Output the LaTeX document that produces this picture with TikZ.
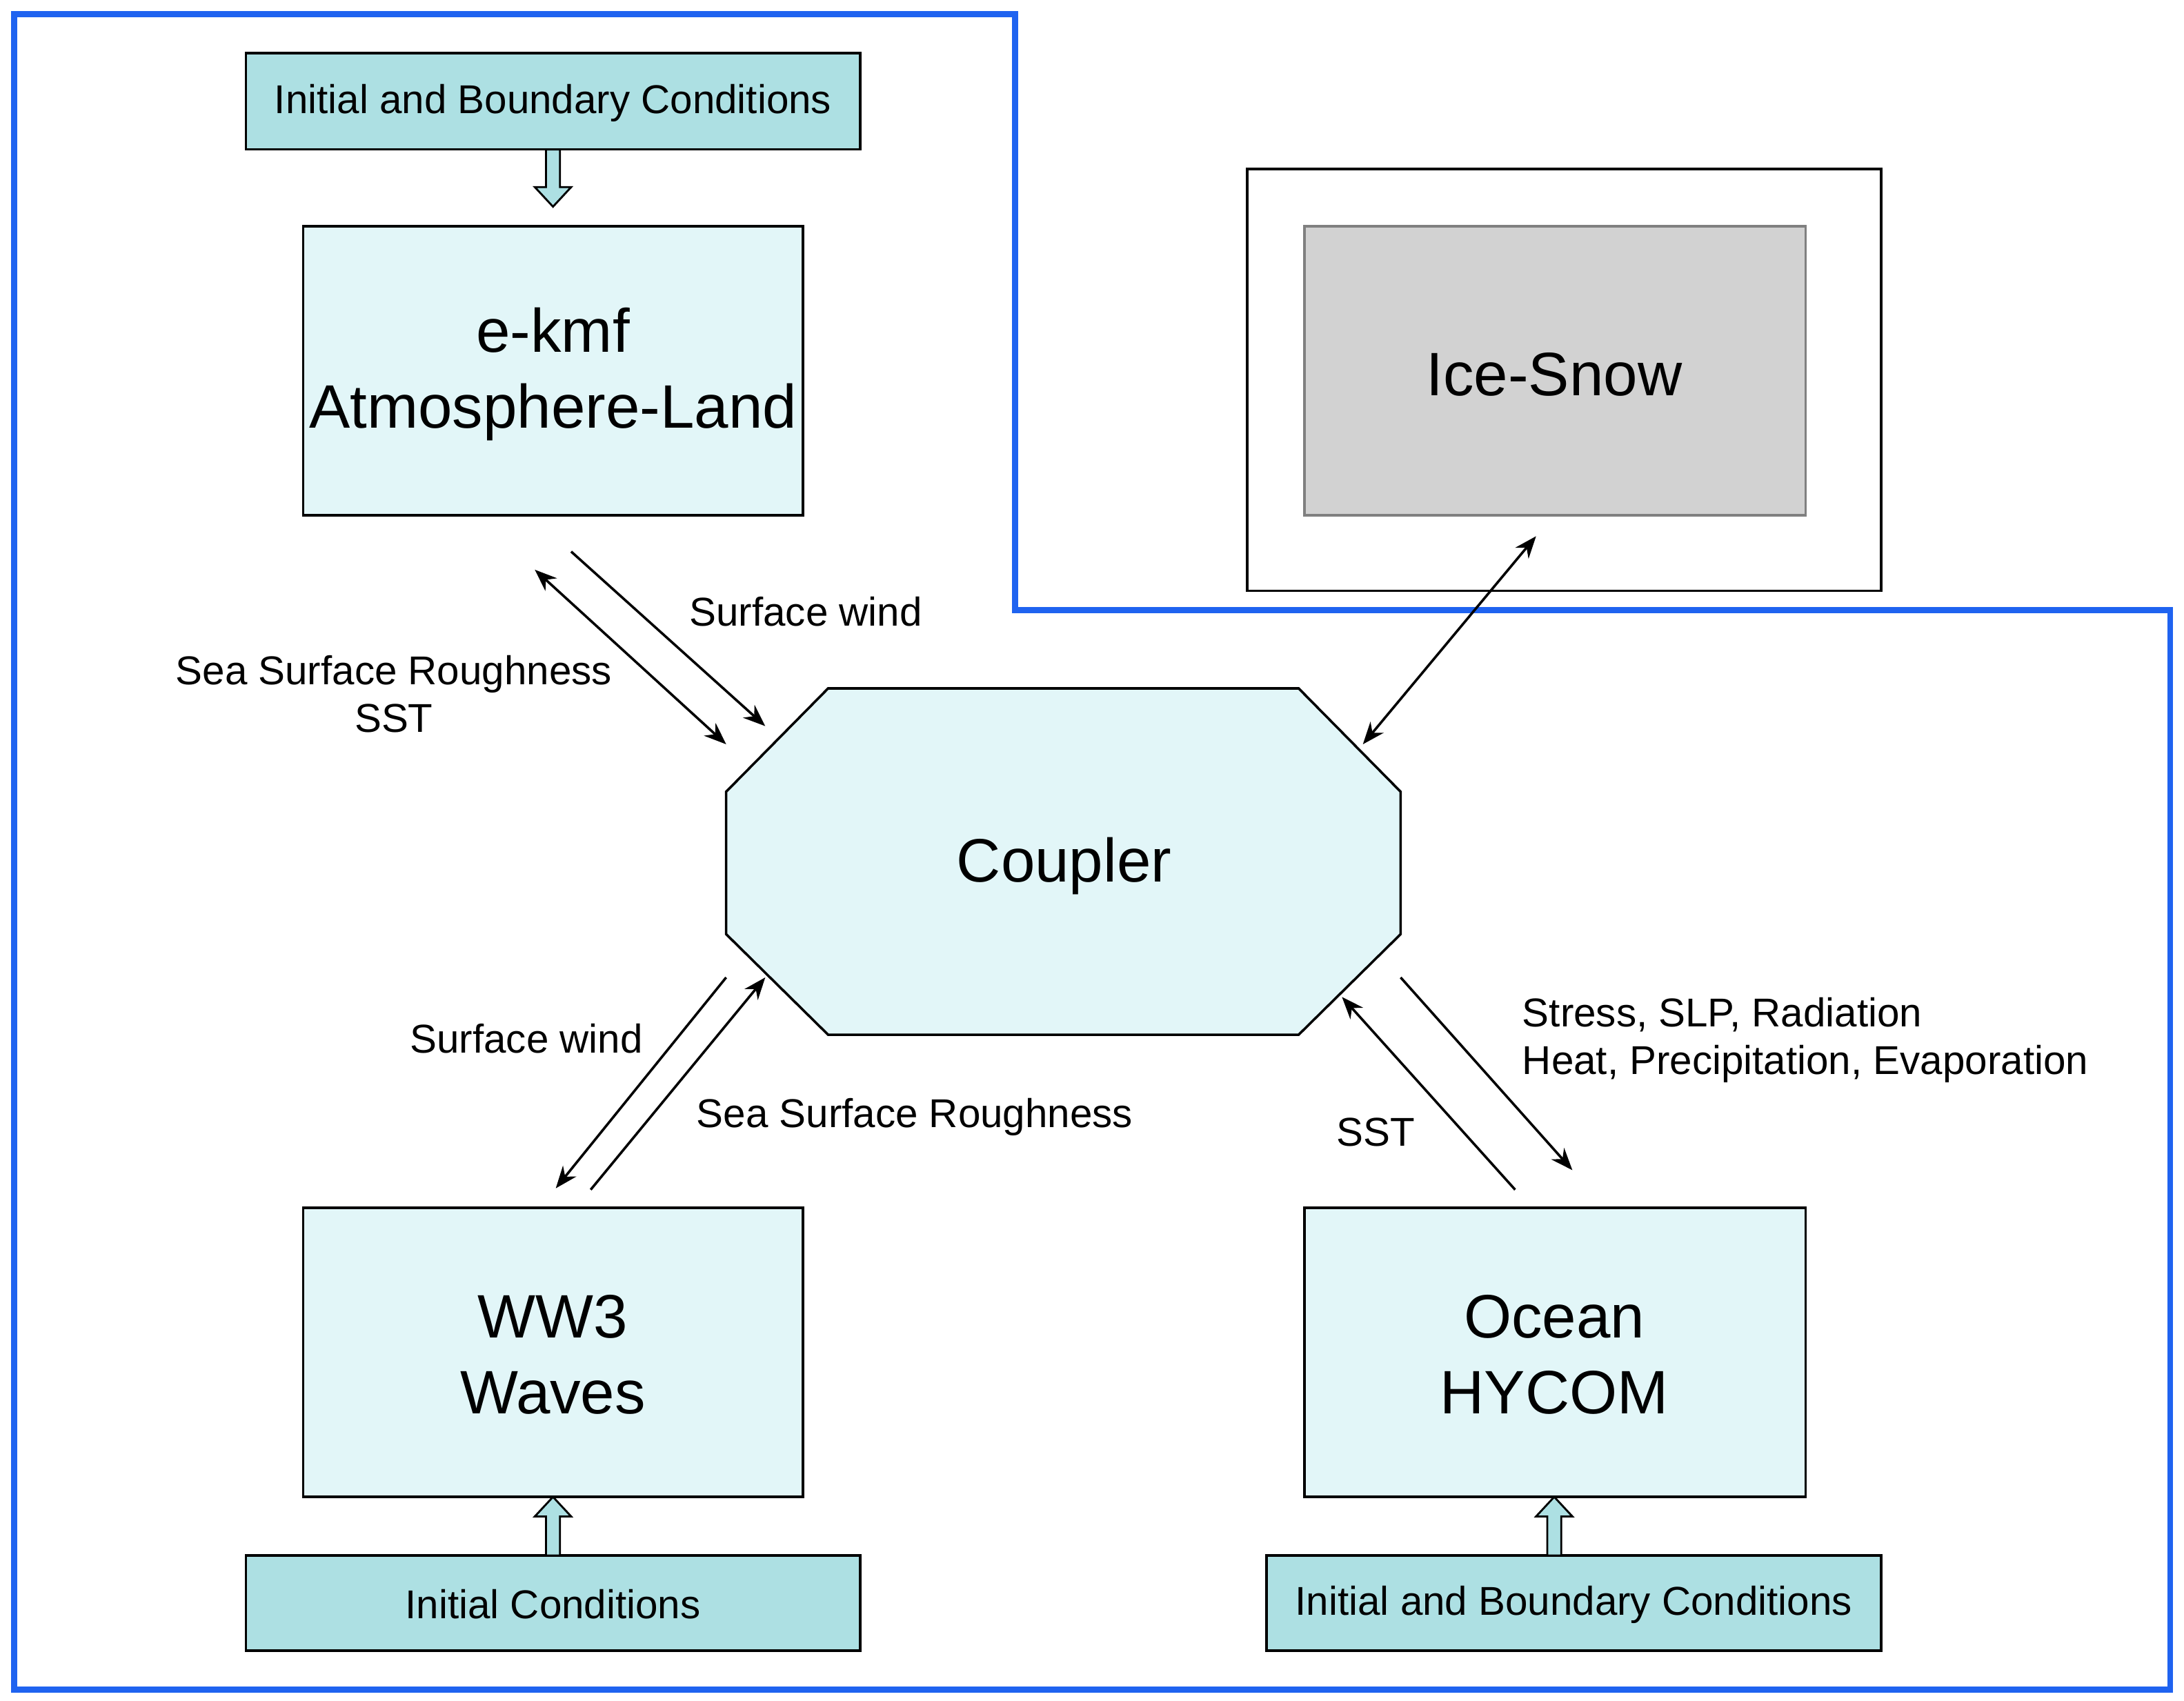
\documentclass[tikz,border=0pt]{standalone}
\usepackage{fontspec}
\setmainfont{Liberation Sans}
\usetikzlibrary{arrows.meta}

\definecolor{icfill}{HTML}{ADE0E3}
\definecolor{modfill}{HTML}{E2F6F8}
\definecolor{frameblue}{HTML}{1F63F0}

\tikzset{
	icbox/.style={draw, line width=1pt, fill=icfill},
	modbox/.style={draw, line width=1pt, fill=modfill},
	flow/.style={line width=1pt, -{Stealth[length=9pt,width=7pt]}},
	bothflow/.style={line width=1pt, {Stealth[length=9pt,width=7pt]}-{Stealth[length=9pt,width=7pt]}},
	lbl/.style={font=\fontsize{16.4}{19.5}\selectfont, align=center},
	big/.style={font=\fontsize{25}{31}\selectfont, align=center}
}
\newcommand{\hollowup}[3]{% x, y tip, y base
	\draw[line width=0.8pt, fill=icfill] (#1-5,#3)--(#1-5,#2+14)--(#1-13,#2+14)--(#1,#2)--(#1+13,#2+14)--(#1+5,#2+14)--(#1+5,#3)--cycle;
}
\newcommand{\hollowdown}[3]{% x, y tip, y base
	\draw[line width=0.8pt, fill=icfill] (#1-5,#3)--(#1-5,#2-14)--(#1-13,#2-14)--(#1,#2)--(#1+13,#2-14)--(#1+5,#2-14)--(#1+5,#3)--cycle;
}

\begin{document}
\begin{tikzpicture}[x=0.02cm,y=-0.02cm]
\useasboundingbox (0,0) rectangle (1564,1218);

% outer frame
\draw[frameblue, line width=2.4pt] (10,10)--(727,10)--(727,437)--(1554,437)--(1554,1210)--(10,1210)--cycle;

% input boxes
\draw[icbox] (176,38) rectangle (616,107);
\node[lbl] (icatm) at (396,74) {Initial and Boundary Conditions};
\draw[icbox] (176,1114) rectangle (616,1182);
\node[lbl] (icwav) at (396,1149) {Initial Conditions};
\draw[icbox] (907,1114) rectangle (1347,1182);
\node[lbl] (icocn) at (1127,1149) {Initial and Boundary Conditions};
\hollowdown{396}{148}{107}
\hollowup{396}{1072}{1114}
\hollowup{1113}{1072}{1114}

% models
\draw[modbox] (217,162) rectangle (575,369);
\node[big] (atm) at (396,268) {e-kmf\\Atmosphere-Land};
\draw[modbox] (217,865) rectangle (575,1072);
\node[big] (wav) at (396,970) {WW3\\Waves};
\draw[modbox] (934,865) rectangle (1293,1072);
\node[big] (ocn) at (1113,970) {Ocean\\HYCOM};
\draw[line width=1pt] (893,121) rectangle (1347,423);
\draw[gray, line width=1pt, fill=gray!35] (934,162) rectangle (1293,369);
\node[big] (ice) at (1113,268) {Ice-Snow};

% coupler
\draw[modbox] (593,493)--(930,493)--(1003,567)--(1003,669)--(930,741)--(593,741)--(520,669)--(520,567)--cycle;
\node[big] (cpl) at (762,620) {Coupler};

% connector ends
\coordinate (a1) at (383,408); \coordinate (c1) at (520,533);
\coordinate (a2) at (409,395); \coordinate (c2) at (548,520);
\coordinate (i1) at (1100,384); \coordinate (c3) at (976,533);
\coordinate (c4) at (520,700); \coordinate (w1) at (398,851);
\coordinate (w2) at (423,852); \coordinate (c5) at (548,700);
\coordinate (c6) at (1003,700); \coordinate (o1) at (1126,838);
\coordinate (o2) at (1085,852); \coordinate (c7) at (961,714);

\draw[bothflow] (a1)--(c1);
\draw[flow] (a2)--(c2);
\draw[bothflow] (i1)--(c3);
\draw[flow] (c4)--(w1);
\draw[flow] (w2)--(c5);
\draw[flow] (c6)--(o1);
\draw[flow] (o2)--(c7);

% labels
\node[lbl] (l1) at (577,438) {Surface wind};
\node[lbl] (l2) at (282,497) {Sea Surface Roughness\\SST};
\node[lbl] (l3) at (377,744) {Surface wind};
\node[lbl] (l4) at (655,800) {Sea Surface Roughness};
\node[lbl] (l5) at (985,811) {SST};
\node[lbl, align=left, anchor=west] (l6) at (1084,745) {Stress, SLP, Radiation\\Heat, Precipitation, Evaporation};
\end{tikzpicture}
\end{document}
